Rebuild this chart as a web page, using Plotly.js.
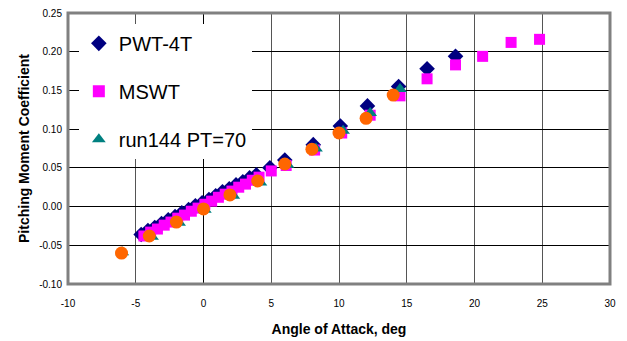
<!DOCTYPE html>
<html>
<head>
<meta charset="utf-8">
<script src="https://cdn.plot.ly/plotly-3.0.1.min.js"></script>
<style>html,body{margin:0;padding:0;background:#fff;}#chart{width:627px;height:341px;}</style>
</head>
<body>
<div id="chart"></div>
<script>
// Data
const pwtX = [-4.6,-4.1,-3.6,-3.1,-2.6,-2.1,-1.6,-1.1,-0.6,-0.1,0.4,0.9,1.4,1.9,2.4,2.9,3.4,3.9,4.9,6.0,8.1,10.1,12.1,14.4,16.5,18.6];
const pwtY = [-0.036,-0.031,-0.027,-0.022,-0.017,-0.013,-0.008,-0.004,0.001,0.005,0.009,0.014,0.019,0.023,0.028,0.032,0.037,0.041,0.050,0.060,0.080,0.104,0.130,0.155,0.178,0.194];

const mswtX = [-4.4,-3.9,-3.4,-2.9,-2.4,-1.9,-1.4,-0.9,-0.4,0.1,0.6,1.1,1.6,2.1,2.6,3.1,3.6,4.1,5.0,6.1,8.2,10.2,12.3,14.5,16.5,18.6,20.6,22.7,24.8];
const mswtY = [-0.038,-0.033,-0.029,-0.024,-0.020,-0.015,-0.011,-0.006,-0.002,0.003,0.007,0.012,0.016,0.020,0.025,0.029,0.034,0.038,0.046,0.053,0.073,0.095,0.118,0.143,0.165,0.183,0.194,0.212,0.216];

const runX = [-6.0,-3.8,-1.8,0.1,2.2,4.2,6.2,8.3,10.3,12.3,14.5];
const runY = [-0.059,-0.039,-0.021,-0.004,0.014,0.031,0.054,0.075,0.098,0.121,0.152];

const orgX = [-6.05,-4.0,-2.0,0.0,1.95,4.0,6.0,8.0,10.0,12.0,14.0];
const orgY = [-0.060,-0.038,-0.020,-0.003,0.015,0.033,0.055,0.074,0.095,0.114,0.144];

const xTicks = [-10,-5,0,5,10,15,20,25,30];
const yTicks = [-0.10,-0.05,0.00,0.05,0.10,0.15,0.20,0.25];

const traces = [
  {x: pwtX, y: pwtY, name: 'PWT-4T', mode: 'markers', type: 'scatter', legendgroup: 'a',
   marker: {symbol: 'diamond', color: '#000080', size: 12}},
  {x: mswtX, y: mswtY, name: 'MSWT', mode: 'markers', type: 'scatter', legendgroup: 'b',
   marker: {symbol: 'square', color: '#FF00FF', size: 11}},
  {x: runX, y: runY, name: 'run144 PT=70', mode: 'markers', type: 'scatter', legendgroup: 'c',
   marker: {symbol: 'triangle-up', color: '#008080', size: 12}},
  {x: orgX, y: orgY, name: 'run', mode: 'markers', type: 'scatter', showlegend: false,
   marker: {symbol: 'circle', color: '#FF6600', size: 13}}
];

const layout = {
  width: 627, height: 341,
  margin: {l: 68, r: 17, t: 13, b: 57},
  paper_bgcolor: '#fff', plot_bgcolor: '#fff',
  font: {family: 'Liberation Sans, Arial, sans-serif', color: '#000'},
  showlegend: true,
  legend: {x: 0.02, y: 0.96, xanchor: 'left', yanchor: 'top', bgcolor: '#fff',
    font: {size: 20, color: '#000'}, traceorder: 'grouped', tracegroupgap: 19,
    itemsizing: 'constant'},
  xaxis: {range: [-10, 30], tickvals: xTicks, ticktext: xTicks.map(String),
    showgrid: true, gridcolor: '#555', gridwidth: 1,
    zeroline: true, zerolinecolor: '#000', zerolinewidth: 1,
    showline: false, ticks: 'outside', ticklen: 10, tickcolor: 'rgba(0,0,0,0)', tickfont: {size: 10},
    title: {text: '<b>Angle of Attack, deg</b>', font: {size: 14}, standoff: 16}},
  yaxis: {range: [-0.10, 0.25], tickvals: yTicks, ticktext: yTicks.map(v => v.toFixed(2)),
    showgrid: true, gridcolor: '#000', gridwidth: 1,
    zeroline: true, zerolinecolor: '#000', zerolinewidth: 1,
    showline: false, ticks: 'outside', ticklen: 3, tickcolor: 'rgba(0,0,0,0)', tickfont: {size: 10},
    title: {text: '<b>Pitching Moment Coefficient</b>', font: {size: 14}, standoff: 6}},
  shapes: [
    {type: 'rect', xref: 'paper', yref: 'paper', x0: 0, x1: 1, y0: 0, y1: 1,
     line: {color: '#808080', width: 3}, layer: 'above'}
  ]
};

Plotly.newPlot('chart', traces, layout, {displayModeBar: false, staticPlot: true});
</script>
</body>
</html>
